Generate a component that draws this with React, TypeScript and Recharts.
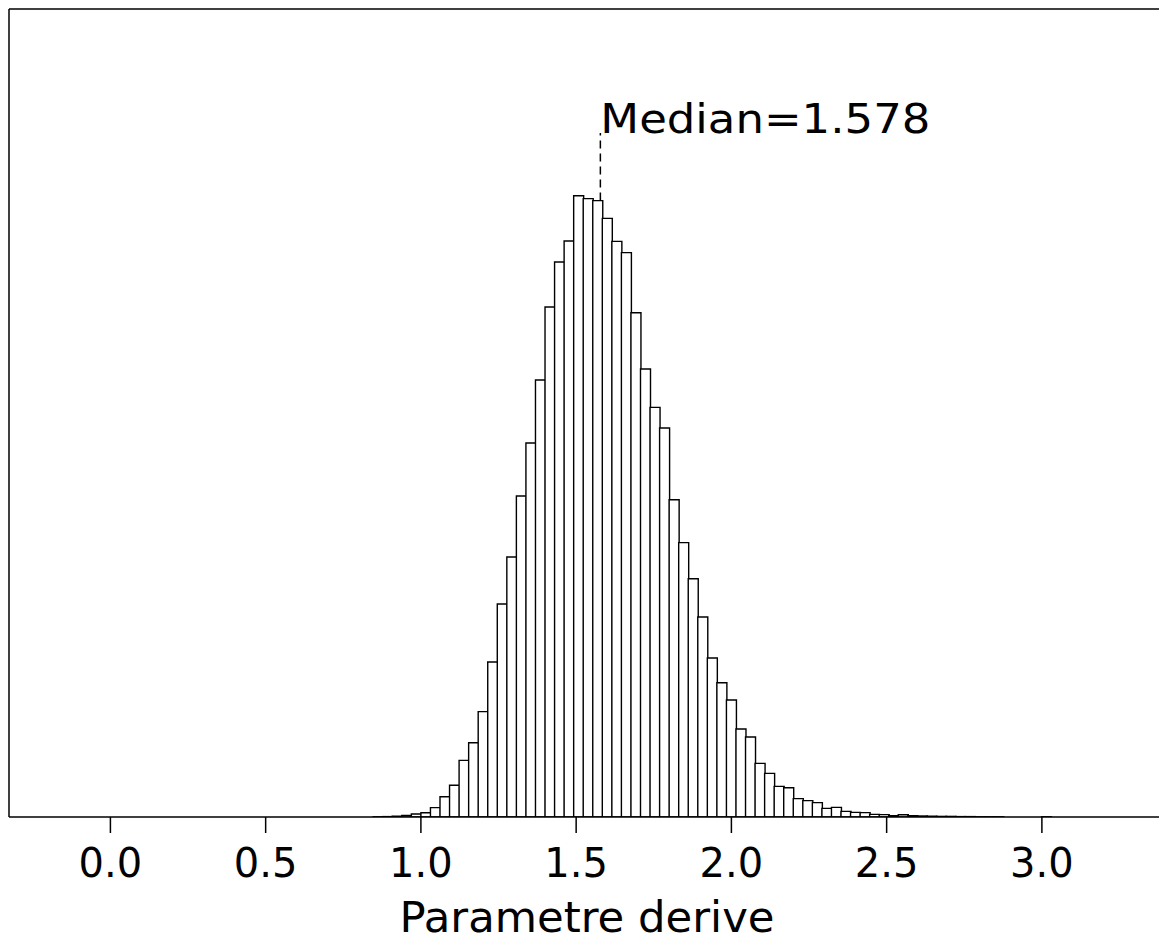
import React from 'react';
import { BarChart, Bar, XAxis, YAxis, ReferenceLine } from 'recharts';

// Histogram bins (101 equal-width bins)
const BIN_START = -0.01475;
const BIN_WIDTH = 0.03075;

// Counts per bin
const binCounts: number[] = [
  0, 0, 0, 0, 0, 0, 0, 0, 0, 0,
  0, 0, 0, 0, 0, 0, 0, 0, 0, 0,
  0, 0, 0, 0, 0, 0, 0, 0, 1, 2,
  4, 8, 15, 21, 47, 101, 159, 283, 371, 527,
  775, 1065, 1300, 1605, 1870, 2185, 2550, 2775, 2880, 3106,
  3092, 3082, 2993, 2878, 2822, 2521, 2240, 2048, 1945, 1586,
  1372, 1191, 1000, 795, 671, 585, 440, 400, 268, 218,
  153, 146, 92, 82, 72, 43, 48, 28, 23, 22,
  13, 12, 7, 11, 7, 5, 4, 3, 3, 2,
  2, 1, 1, 1, 0, 0, 0, 0, 1, 0,
  0,
];

const xTicks = [0, 0.5, 1, 1.5, 2, 2.5, 3];
const xTickLabels = ['0.0', '0.5', '1.0', '1.5', '2.0', '2.5', '3.0'];
const X_DOMAIN: [number, number] = [-0.3266, 3.3965];
const Y_MAX = 4040;

const MEDIAN = 1.578;
const medianText = 'Median=1.578';
const LABEL_LEVEL = 3420;
const xAxisTitle = 'Parametre derive';

const FONT = '"DejaVu Sans", sans-serif';

const data = binCounts.map((count, i) => ({
  mid: BIN_START + (i + 0.5) * BIN_WIDTH,
  count,
}));

const medianBin = Math.floor((MEDIAN - BIN_START) / BIN_WIDTH);
const medianBinCount = binCounts[medianBin];

const XTick = (props: any) => {
  const { x, y, payload } = props;
  const idx = xTicks.indexOf(payload.value);
  return (
    <text x={x} y={y} dy="0.71em" textAnchor="middle" fontFamily={FONT} fontSize={40} fill="#000">
      {idx >= 0 ? xTickLabels[idx] : String(payload.value)}
    </text>
  );
};

const AxisTitle = (props: any) => {
  const vb = props.viewBox || {};
  const cx = vb.x + vb.width / 2;
  return (
    <text
      x={cx}
      y={vb.y + 115}
      textAnchor="middle"
      fontFamily={FONT}
      fontSize={42}
      fill="#000"
      textLength={375}
      lengthAdjust="spacingAndGlyphs"
    >
      {xAxisTitle}
    </text>
  );
};

const MedianLabel = (props: any) => {
  const vb = props.viewBox || {};
  return (
    <text
      x={vb.x}
      y={vb.y}
      textAnchor="start"
      fontFamily={FONT}
      fontSize={41}
      fill="#000"
      textLength={330}
      lengthAdjust="spacingAndGlyphs"
    >
      {medianText}
    </text>
  );
};

const frameLine = { stroke: '#000', strokeWidth: 1.5 };

export default function App() {
  return (
    <div style={{ width: 1159, height: 935, background: '#fff' }}>
      <BarChart
        width={1159}
        height={935}
        data={data}
        margin={{ top: 0, right: 1, left: 0, bottom: 0 }}
        barCategoryGap={0}
        barGap={0}
      >
        <Bar
          dataKey="count"
          fill="#fff"
          stroke="#000"
          strokeWidth={1.4}
          isAnimationActive={false}
        />
        <Bar
          dataKey="count"
          xAxisId="top"
          yAxisId="right"
          fill="none"
          stroke="none"
          isAnimationActive={false}
          legendType="none"
        />
        <XAxis
          dataKey="mid"
          type="number"
          domain={X_DOMAIN}
          allowDataOverflow
          ticks={xTicks}
          interval={0}
          tickSize={16}
          tickMargin={16}
          tick={<XTick />}
          axisLine={frameLine}
          tickLine={frameLine}
          height={126}
          label={AxisTitle}
        />
        <XAxis
          xAxisId="top"
          dataKey="mid"
          orientation="top"
          type="number"
          domain={X_DOMAIN}
          allowDataOverflow
          height={1}
          tick={false}
          tickLine={false}
          axisLine={frameLine}
        />
        <YAxis
          type="number"
          domain={[0, Y_MAX]}
          allowDataOverflow
          width={1}
          tick={false}
          tickLine={false}
          axisLine={frameLine}
        />
        <YAxis
          yAxisId="right"
          orientation="right"
          type="number"
          domain={[0, Y_MAX]}
          allowDataOverflow
          width={1}
          tick={false}
          tickLine={false}
          axisLine={frameLine}
        />
        <ReferenceLine
          segment={[
            { x: MEDIAN, y: medianBinCount },
            { x: MEDIAN, y: LABEL_LEVEL },
          ]}
          stroke="#000"
          strokeWidth={1.5}
          strokeDasharray="8 5"
          label={MedianLabel}
        />
      </BarChart>
    </div>
  );
}
